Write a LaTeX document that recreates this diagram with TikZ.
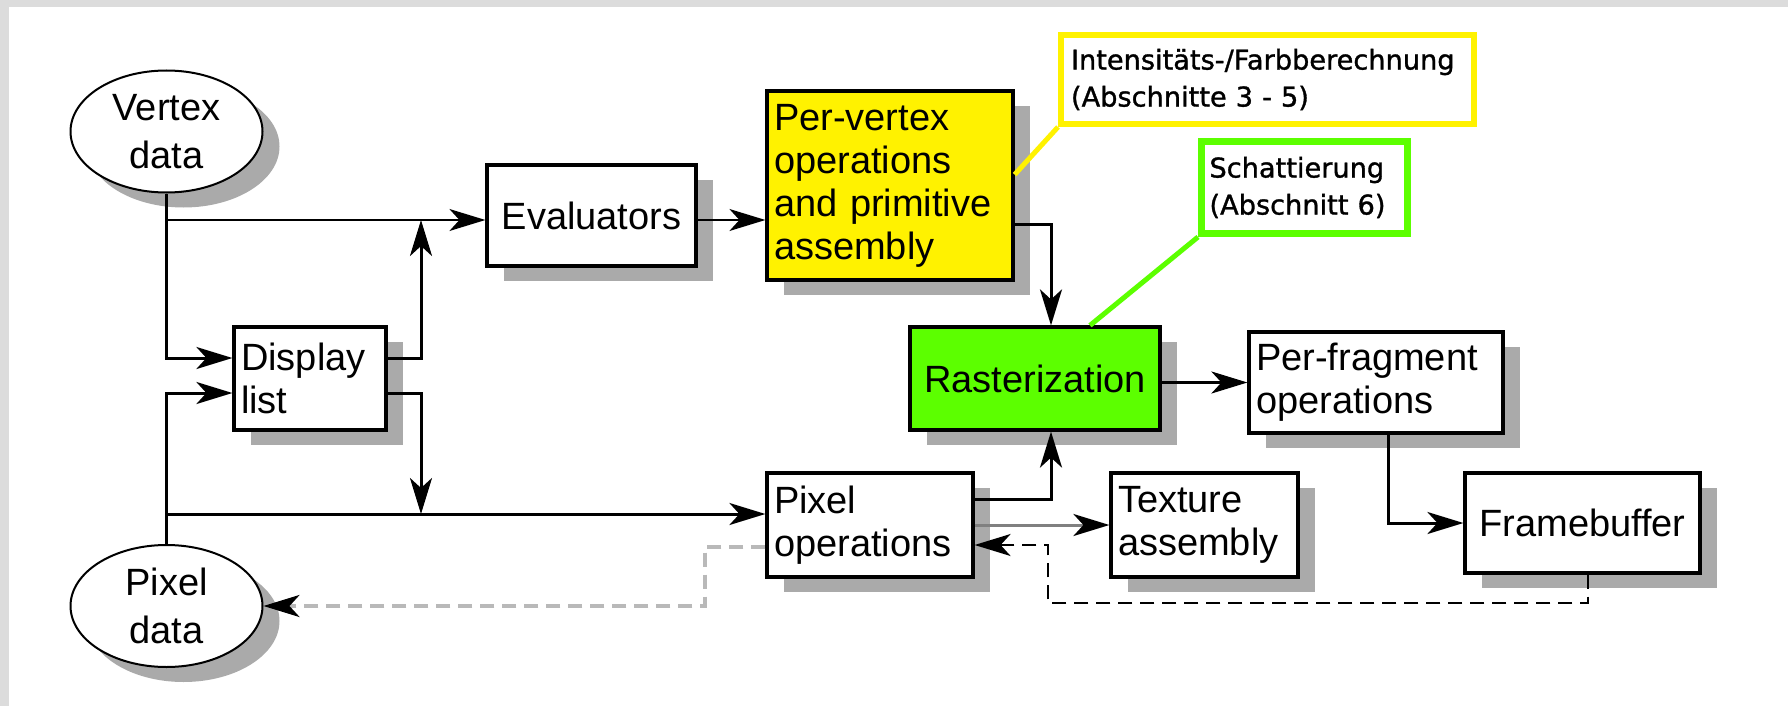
\documentclass[tikz,border=0pt]{standalone}
\usepackage{fontspec}
\setmainfont{Liberation Sans}
\newfontfamily\calloutfont[FakeBold=1.2]{DejaVu Sans}
\usetikzlibrary{arrows.meta,shapes.geometric,shadows}
\definecolor{bggray}{RGB}{220,220,220}
\definecolor{shadowgray}{RGB}{170,170,170}
\definecolor{ylw}{RGB}{255,242,0}
\definecolor{grn}{RGB}{92,255,0}
\definecolor{dashgray}{RGB}{185,185,185}

\begin{document}
\begin{tikzpicture}[x=0.5pt,y=0.5pt,yscale=-1,
	shadowed/.style={drop shadow={shadow xshift=8.5pt,shadow yshift=-7.5pt,fill=shadowgray,opacity=1}},
	box/.style={draw,line width=1.6pt,fill=white,shadowed,inner sep=3.5pt,font={\fontsize{19}{21.5}\selectfont}},
	lbox/.style={box,align=left},
	datablob/.style={ellipse,draw,line width=1pt,fill=white,shadowed,inner sep=0pt,minimum width=96pt,minimum height=61pt,align=center,font={\fontsize{19}{24}\selectfont}},
	callout/.style={draw,fill=white,align=left,font={\calloutfont\fontsize{13.6}{18.5}\selectfont}},
	flow/.style={line width=1.5pt,-{Stealth[length=18pt,width=11pt,inset=5pt]}},
	thinflow/.style={flow,line width=0.8pt},
	retflow/.style={line width=1.1pt,dash pattern=on 7pt off 4pt,-{Stealth[length=18pt,width=11pt,inset=5pt]}},
	pointer/.style={line width=2.5pt}]
	\useasboundingbox (0,0) rectangle (1788,706);
	
	%Background
	\fill [bggray] (0,0) rectangle (1788,706);
	\fill [white] (9,7) rectangle (1788,706);
	
	%Data sources
	\node [datablob] (vtx) at (166.5,131.5) {Vertex\\data};
	\node [datablob] (pdat) at (166.5,606) {Pixel\\data};
	
	%Pipeline stages
	\node [lbox,text width=69pt,minimum height=51.5pt] (dlist) at (310,378.5) {Display\\list};
	\node [box,minimum width=104.5pt,minimum height=50.5pt] (eval) at (591.5,215.5) {Evaluators};
	\node [lbox,fill=ylw,text width=116pt,minimum height=94.5pt] (pervtx) at (890,185.5) {Per-vertex\\operations\\and primitive\\assembly};
	\node [box,fill=grn,minimum width=125pt,minimum height=51.5pt] (raster) at (1035,378.5) {Rasterization};
	\node [lbox,text width=120pt,minimum height=50.5pt] (perfrag) at (1376,382.5) {Per-fragment\\operations};
	\node [lbox,text width=96pt,minimum height=52pt] (pixops) at (870,525) {Pixel\\operations};
	\node [lbox,text width=86.5pt,minimum height=52pt] (texture) at (1204.5,525) {Texture\\assembly};
	\node [box,minimum width=117.5pt,minimum height=50pt] (fbuf) at (1582.5,523) {Framebuffer};
	
	%Callouts
	\node [callout,draw=ylw,line width=3pt,inner sep=5pt,text width=196.5pt,minimum height=44.5pt] (ycall) at (1267.5,79.5) {\mbox{Intensitäts-/Farbberechnung}\\(Abschnitte 3 - 5)};
	\node [callout,draw=grn,line width=3.5pt,inner sep=4pt,text width=95pt,minimum height=46pt] (gcall) at (1304.5,187.5) {Schattierung\\(Abschnitt 6)};
	\draw [pointer,ylw] (ycall.south west) -- (pervtx.5);
	\draw [pointer,grn] (gcall.south west) -- (raster.44);
	
	%Junctions
	\coordinate (vsplit) at (166.5,220);
	\coordinate (psplit) at (166.5,514);
	\coordinate (dup) at (421,220);
	\coordinate (ddown) at (421,514);
	\coordinate (fbret) at (1048,603);
	\coordinate (pdret) at (705,606);
	
	%Connectors
	\draw [flow] (vtx.south) |- ([yshift=-10.25pt]dlist.west);
	\draw [thinflow] (vsplit) -- (eval.west |- vsplit);
	\draw [flow] ([yshift=-10.25pt]dlist.east) -| (dup);
	\draw [flow] ([yshift=7.25pt]dlist.east) -| (ddown);
	\draw [flow] (pdat.north) |- ([yshift=7.25pt]dlist.west);
	\draw [flow] (psplit) -- (pixops.west |- psplit);
	\draw [thinflow] (eval.east |- vsplit) -- (pervtx.west |- vsplit);
	\draw [flow] ([yshift=19.25pt]pervtx.east) -| ([xshift=8pt]raster.north);
	\draw [flow] ([yshift=-13pt]pixops.east) -| ([xshift=8pt]raster.south);
	\draw [flow] (raster.east |- perfrag.west) -- (perfrag.west);
	\draw [flow] ([xshift=6pt]perfrag.south) |- (fbuf.west);
	\draw [flow,gray,-{Stealth[length=18pt,width=11pt,inset=5pt,black]}] (pixops.east) -- (texture.west);
	\draw [retflow] ([xshift=2.75pt]fbuf.south) |- (fbret) |- ([yshift=10pt]pixops.east);
	\draw [retflow,dashgray,line width=1.6pt,-{Stealth[length=18pt,width=11pt,inset=5pt,black]}] ([yshift=11pt]pixops.west) -| (pdret) -- (pdat.east);
	
\end{tikzpicture}
\end{document}
